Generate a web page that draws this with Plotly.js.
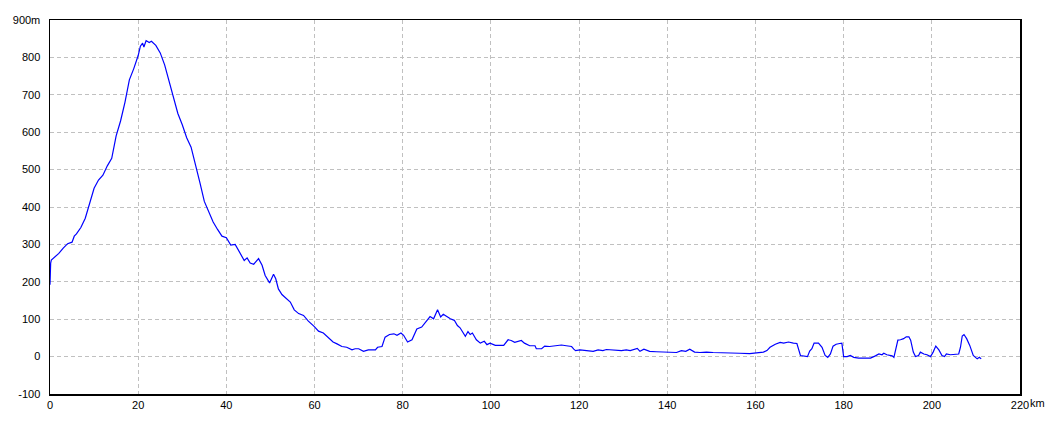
<!DOCTYPE html>
<html>
<head>
<meta charset="utf-8">
<script src="https://cdn.plot.ly/plotly-3.0.1.min.js"></script>
<style>html,body{margin:0;padding:0;background:#fff;}#chart{width:1060px;height:424px;}</style>
</head>
<body>
<div id="chart"></div>
<script>
const distanceKm = [0,0.05,0.15,0.3,1,2,3,4,5,5.5,6,7,8,9,10,11,12,13,14,15,16,17,18,19,20,20.5,21,21.3,21.8,22.5,23,24,25,26,27,28,29,30,31,32,33,34,35,36,37,38,39,40,41,42,
43.1,44.05,44.7,45.4,46.2,47.3,48.1,48.8,49.8,50.7,51.2,51.8,52.6,53.7,54.5,55.4,56.4,57.5,58.6,59.9,60.9,62,62.9,64.2,65.1,66.2,67.3,68.5,69.2,70,71.1,72.2,73.8,74.3,75.3,76,77,78,78.7,79.6,80.2,81.1,82.1,82.8,83.2,84.3,85.1,86.2,87,87.9,88.6,89.2,90,90.8,91.7,92.4,93,94.2,94.8,95.3,95.8,96.7,97.6,98.5,99.1,99.8,101,102.9,
103.9,104.6,105.4,106.1,106.9,107.6,108.8,110,110.3,111.5,112.2,113.3,114.9,116,117.1,118.3,118.8,119.2,120.2,121.7,123.2,124.3,125.4,126.2,127.3,128.5,129.6,130.7,131.6,133.2,133.8,134.7,136,137.5,139.8,142.1,143.2,144.2,145.1,146.2,147.4,148.9,150.4,151.9,154.9,156.4,158.7,
160.3,161.8,162.6,163.3,164.5,165.6,166.4,167.5,168.6,169.4,170.2,171.3,171.8,172.3,172.8,173.3,174.3,175.1,175.8,176.4,177,177.6,178.3,179.1,179.6,180,180.8,181.5,182.3,183.4,184.9,186.1,187.2,188,188.7,189.1,189.8,191,191.4,191.7,192.3,192.9,193.6,194.2,194.8,195.2,195.8,196.3,197,197.4,198.2,198.9,199.7,200.3,200.9,201.6,202.3,202.9,203.3,204.2,205.4,206.1,206.5,206.9,207.3,207.9,208.6,209.4,209.9,210.3,210.8,211.2];
const elevationM = [192,220,250,258,265,276,290,302,306,322,328,345,370,410,450,472,485,510,530,590,630,680,740,770,805,830,838,828,845,840,843,832,812,780,735,690,650,620,585,560,515,465,415,385,360,340,322,318,298,300,
275,257,264,250,247,262,244,217,197,220,208,181,166,155,146,125,115,110,95,81,68,63,54,39,34,27,25,18,21,21,14,18,18,25,27,52,59,61,57,63,57,39,45,61,74,79,92,107,101,125,106,113,107,101,97,83,77,54,67,59,63,45,36,41,32,36,30,30,
45,43,38,41,43,36,29,29,21,21,28,27,29,31,29,27,20,16,18,16,14,18,16,19,18,16,16,18,16,22,14,20,14,13,11,11,16,14,20,12,11,12,11,11,11,9,8,
11,12,16,25,33,38,36,39,36,35,3,0,0,15,21,36,36,25,3,-2,7,28,33,35,36,0,0,3,-2,-4,-5,-4,2,7,5,9,5,2,-2,12,44,45,48,53,53,44,12,0,3,12,7,5,0,12,28,18,3,0,7,5,6,7,25,55,59,48,30,3,-2,-6,-2,-6];
const xTickVals = [0,20,40,60,80,100,120,140,160,180,200,220];
const xTickText = ["0","20","40","60","80","100","120","140","160","180","200","220"];
const yTickVals = [-100,0,100,200,300,400,500,600,700,800,900];
const yTickText = ["-100","0","100","200","300","400","500","600","700","800","900m"];

const trace = {
  x: distanceKm, y: elevationM, type: 'scatter', mode: 'lines',
  line: {color: '#0000ff', width: 1.2}, hoverinfo: 'skip'
};
const axisCommon = {
  showline: true, linecolor: '#000', linewidth: 1.5, mirror: true,
  showgrid: true, gridcolor: '#c0c0c0', griddash: '4px,3px', gridwidth: 1,
  zeroline: false, ticks: '', tickfont: {family: 'Liberation Sans, Arial, sans-serif', size: 11, color: '#000'}
};
const layout = {
  width: 1060, height: 424,
  margin: {l: 50, r: 40, t: 20, b: 30, pad: 0},
  paper_bgcolor: '#fff', plot_bgcolor: '#fff',
  showlegend: false,
  xaxis: Object.assign({}, axisCommon, {range: [0, 220], tickmode: 'array', tickvals: xTickVals, ticktext: xTickText}),
  yaxis: Object.assign({}, axisCommon, {range: [-100, 900], tickmode: 'array', tickvals: yTickVals, ticktext: yTickText, ticklabelstandoff: 6}),
  annotations: [{
    xref: 'paper', yref: 'paper', x: 1, y: 0, xshift: 8, yshift: -9,
    xanchor: 'left', yanchor: 'middle', text: 'km', showarrow: false,
    font: {family: 'Liberation Sans, Arial, sans-serif', size: 11, color: '#000'}
  }]
};
Plotly.newPlot('chart', [trace], layout, {staticPlot: true, displayModeBar: false});
</script>
</body>
</html>
